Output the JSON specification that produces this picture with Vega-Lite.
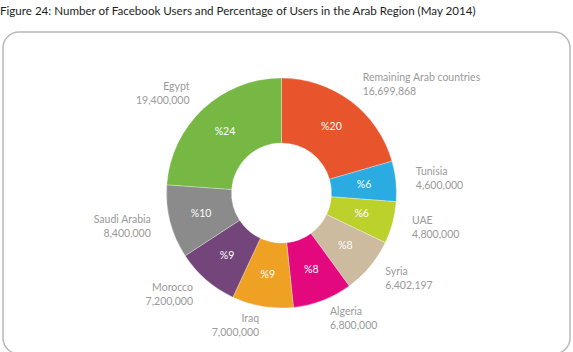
{
  "$schema": "https://vega.github.io/schema/vega-lite/v6.json",
  "width": 567,
  "height": 322,
  "autosize": {"type": "none"},
  "padding": {"left": 3, "top": 32, "right": 3, "bottom": 0},
  "background": "white",
  "view": {"stroke": "#b8b8b8", "strokeWidth": 1.5, "cornerRadius": 16, "fill": "white"},
  "title": {
    "text": "Figure 24: Number of Facebook Users and Percentage of Users in the Arab Region (May 2014)",
    "anchor": "start",
    "frame": "group",
    "font": "Lato",
    "fontSize": 11.6,
    "fontWeight": "normal",
    "color": "#1e1e1e",
    "offset": 14,
    "dx": -3
  },
  "data": {
    "values": [
      {"idx": 1, "country": "Remaining Arab countries", "users": 16699868, "pct": "%20"},
      {"idx": 2, "country": "Tunisia", "users": 4600000, "pct": "%6"},
      {"idx": 3, "country": "UAE", "users": 4800000, "pct": "%6"},
      {"idx": 4, "country": "Syria", "users": 6402197, "pct": "%8"},
      {"idx": 5, "country": "Algeria", "users": 6800000, "pct": "%8"},
      {"idx": 6, "country": "Iraq", "users": 7000000, "pct": "%9"},
      {"idx": 7, "country": "Morocco", "users": 7200000, "pct": "%9"},
      {"idx": 8, "country": "Saudi Arabia", "users": 8400000, "pct": "%10"},
      {"idx": 9, "country": "Egypt", "users": 19400000, "pct": "%24"}
    ]
  },
  "encoding": {
    "theta": {"field": "users", "type": "quantitative", "stack": true},
    "order": {"field": "idx", "type": "quantitative"}
  },
  "layer": [
    {
      "mark": {"type": "arc", "radius": 115, "radius2": 50, "stroke": "white", "strokeWidth": 0.3, "xOffset": -5},
      "encoding": {
        "color": {
          "field": "country",
          "type": "nominal",
          "legend": null,
          "scale": {
            "domain": ["Remaining Arab countries", "Tunisia", "UAE", "Syria", "Algeria", "Iraq", "Morocco", "Saudi Arabia", "Egypt"],
            "range": ["#E8542C", "#2AACE2", "#BDD12D", "#CCBB9E", "#E4087F", "#EFA124", "#73457A", "#8B8B8B", "#77B844"]
          }
        }
      }
    },
    {
      "mark": {"type": "text", "radius": 83, "fill": "white", "font": "Lato", "fontSize": 10.5, "xOffset": -5},
      "encoding": {"text": {"field": "pct", "type": "nominal"}}
    },
    {
      "mark": {
        "type": "text", "radius": 135, "dy": -7, "fill": "#9a9a9a", "font": "Lato", "fontSize": 10.5, "xOffset": -5,
        "align": {"expr": "indexof(['Iraq','Morocco','Saudi Arabia','Egypt'], datum.country) >= 0 ? 'right' : 'left'"}
      },
      "encoding": {"text": {"field": "country", "type": "nominal"}}
    },
    {
      "mark": {
        "type": "text", "radius": 135, "dy": 7, "fill": "#9a9a9a", "font": "Lato", "fontSize": 10.5, "xOffset": -5,
        "align": {"expr": "indexof(['Iraq','Morocco','Saudi Arabia','Egypt'], datum.country) >= 0 ? 'right' : 'left'"}
      },
      "encoding": {"text": {"field": "users", "type": "quantitative", "format": ","}}
    }
  ]
}
